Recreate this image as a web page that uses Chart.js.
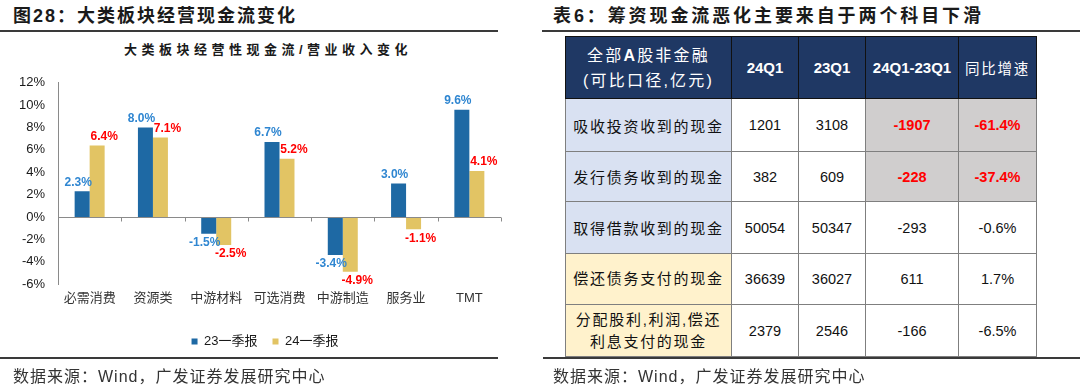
<!DOCTYPE html>
<html><head><meta charset="utf-8">
<script src="https://cdn.jsdelivr.net/npm/chart.js@4.4.1/dist/chart.umd.min.js"></script>
<style>
html,body{margin:0;padding:0;}
body{width:1080px;height:389px;background:#fff;position:relative;overflow:hidden;font-family:"Liberation Sans",Arial,"Noto Sans CJK SC",sans-serif;}
.t{position:absolute;font-weight:bold;font-size:18px;letter-spacing:2px;color:#1a1a1a;white-space:nowrap;line-height:20px;}
.rule{position:absolute;height:2px;background:#3a3a3a;}
.src{position:absolute;font-size:16px;letter-spacing:1px;color:#333;line-height:18px;white-space:nowrap;}
.ctitle{position:absolute;left:0;width:536px;top:41px;text-align:center;font-weight:bold;font-size:13px;letter-spacing:4.5px;color:#1a1a1a;line-height:18px;white-space:nowrap;}
#wrap{position:absolute;left:0;top:62px;width:510px;height:296px;}
table{position:absolute;left:565px;top:36px;border-collapse:collapse;table-layout:fixed;width:471px;}
td,th{padding:0;text-align:center;vertical-align:middle;border:1px solid #7f7f7f;font-size:14.5px;color:#111;}
th{background:#1F3864;color:#fff;border:1px solid #111;font-weight:bold;font-size:15px;}
th.cn{font-weight:normal;font-size:16px;letter-spacing:2.2px;line-height:25px;}
th.cn2{font-weight:normal;font-size:14.5px;letter-spacing:1.8px;}
td.c1{font-size:15px;letter-spacing:1.7px;}
td.blue{background:#D9E1F2;}
td.yel{background:#FFF2CC;line-height:22px;}
td.gray{background:#D0CECE;}
td.red{color:#FF0000;font-weight:bold;}
</style>
</head>
<body>
<div class="t" style="left:13px;top:6px;">图28：大类板块经营现金流变化</div>
<div class="rule" style="left:0;top:30px;width:498px;"></div>
<div class="ctitle">大类板块经营性现金流/营业收入变化</div>
<div id="wrap"><canvas id="c"></canvas></div>
<div class="rule" style="left:0;top:357px;width:498px;"></div>
<div class="src" style="left:13px;top:368px;">数据来源：Wind，广发证券发展研究中心</div>

<div class="t" style="left:553px;top:6px;letter-spacing:2.9px;">表6：筹资现金流恶化主要来自于两个科目下滑</div>
<div class="rule" style="left:542px;top:30px;width:538px;"></div>
<table id="tbl"></table>
<div class="rule" style="left:543px;top:357px;width:537px;"></div>
<div class="src" style="left:553px;top:368px;">数据来源：Wind，广发证券发展研究中心</div>

<script>
// ---- chart data ----
const categories = ['必需消费','资源类','中游材料','可选消费','中游制造','服务业','TMT'];
const seriesNames = ['23一季报','24一季报'];
const q1_2023 = [2.3, 8.0, -1.5, 6.7, -3.4, 3.0, 9.6];
const q1_2024 = [6.4, 7.1, -2.5, 5.2, -4.9, -1.1, 4.1];
const yTicks = [-6,-4,-2,0,2,4,6,8,10,12];

// ---- table data ----
const tableHeader = ['24Q1','23Q1','24Q1-23Q1','同比增速'];
const rowNames = ['吸收投资收到的现金','发行债务收到的现金','取得借款收到的现金','偿还债务支付的现金','分配股利,利润,偿还<br>利息支付的现金'];
const col24Q1 = [1201, 382, 50054, 36639, 2379];
const col23Q1 = [3108, 609, 50347, 36027, 2546];
const colDiff = [-1907, -228, -293, 611, -166];
const colYoY = ['-61.4%','-37.4%','-0.6%','1.7%','-6.5%'];
const highlightRows = [0, 1];
const inflowRows = [0, 1, 2];

// build table
(function(){
  const t = document.getElementById('tbl');
  const widths = [166, 67, 67, 93, 78];
  let h = '<colgroup>' + widths.map(w => '<col style="width:' + w + 'px">').join('') + '</colgroup>';
  h += '<tr style="height:62px"><th class="cn">全部<b>A</b>股非金融<br>(可比口径,亿元)</th>';
  tableHeader.forEach((s, i) => { h += '<th' + (i === 3 ? ' class="cn2"' : '') + '>' + s + '</th>'; });
  h += '</tr>';
  const rh = [53, 50, 52, 51, 52];
  rowNames.forEach((n, i) => {
    const hl = highlightRows.includes(i);
    h += '<tr style="height:' + rh[i] + 'px"><td class="c1 ' + (inflowRows.includes(i) ? 'blue' : 'yel') + '">' + n + '</td>';
    h += '<td>' + col24Q1[i] + '</td><td>' + col23Q1[i] + '</td>';
    h += '<td class="' + (hl ? 'gray red' : '') + '">' + colDiff[i] + '</td>';
    h += '<td class="' + (hl ? 'gray red' : '') + '">' + colYoY[i] + '</td></tr>';
  });
  t.innerHTML = h;
})();

const FONT = '"Liberation Sans", Arial, "Noto Sans CJK SC", sans-serif';

const labelPlugin = {
  id: 'valueLabels',
  afterDatasetsDraw(chart) {
    const ctx = chart.ctx;
    const colors = ['#2F86D1', '#FF0000'];
    const dxs = [-4, 7];
    ctx.save();
    ctx.font = 'bold 12px ' + FONT;
    ctx.textAlign = 'center';
    chart.data.datasets.forEach((ds, di) => {
      const meta = chart.getDatasetMeta(di);
      meta.data.forEach((bar, i) => {
        const v = ds.data[i];
        ctx.fillStyle = colors[di];
        const txt = v.toFixed(1) + '%';
        if (v >= 0) { ctx.textBaseline = 'bottom'; ctx.fillText(txt, bar.x + dxs[di], bar.y - 3); }
        else { ctx.textBaseline = 'top'; ctx.fillText(txt, bar.x + dxs[di], bar.y + 3); }
      });
    });
    ctx.restore();
  }
};

const zeroAxisPlugin = {
  id: 'zeroAxis',
  afterDatasetsDraw(chart) {
    const ctx = chart.ctx;
    const ys = chart.scales.y, xs = chart.scales.x;
    const y0 = Math.round(ys.getPixelForValue(0)) + 0.5;
    ctx.save();
    ctx.strokeStyle = '#8a8a8a';
    ctx.lineWidth = 1;
    ctx.beginPath();
    ctx.moveTo(chart.chartArea.left, y0);
    ctx.lineTo(chart.chartArea.right, y0);
    for (let i = 0; i < categories.length; i++) {
      const x = Math.round(xs.getPixelForValue(i + 0.5)) + 0.5;
      ctx.moveTo(x, y0);
      ctx.lineTo(x, y0 + 4);
    }
    ctx.stroke();
    ctx.restore();
  }
};

// shift the legend so it is centred under the plot like the original
const legendShift = {
  id: 'legendShift',
  afterLayout(chart) {
    const lg = chart.legend;
    if (lg) { lg.left += 14.5; lg.right += 14.5; }
  }
};

new Chart(document.getElementById('c'), {
  type: 'bar',
  data: {
    labels: categories,
    datasets: [
      { label: seriesNames[0], data: q1_2023, backgroundColor: '#1E69A4' },
      { label: seriesNames[1], data: q1_2024, backgroundColor: '#E2C464' }
    ]
  },
  options: {
    responsive: true,
    maintainAspectRatio: false,
    animation: false,
    devicePixelRatio: 1,
    categoryPercentage: 0.474,
    barPercentage: 1.0,
    layout: { padding: { left: 0, right: 9, top: 11, bottom: 0 } },
    scales: {
      x: {
        afterFit: (s) => { s.height = 36; },
        grid: { display: false, drawTicks: false },
        border: { display: false },
        ticks: { font: { family: FONT, size: 13 }, color: '#333', padding: 7, maxRotation: 0 }
      },
      y: {
        min: -6, max: 12,
        afterFit: (s) => { s.width = 58; },
        afterBuildTicks: (s) => { s.ticks = yTicks.map(v => ({ value: v })); },
        grid: { display: false, drawTicks: false },
        border: { display: true, color: '#8a8a8a', width: 1 },
        ticks: { font: { family: FONT, size: 13 }, color: '#1a1a1a', padding: 13, callback: v => v + '%' }
      }
    },
    plugins: {
      legend: {
        position: 'bottom',
        labels: { boxWidth: 6, boxHeight: 6, padding: 15, font: { family: FONT, size: 13 }, color: '#1a1a1a' }
      },
      title: { display: false },
      tooltip: { enabled: false }
    }
  },
  plugins: [labelPlugin, zeroAxisPlugin, legendShift]
});
</script>
</body></html>
